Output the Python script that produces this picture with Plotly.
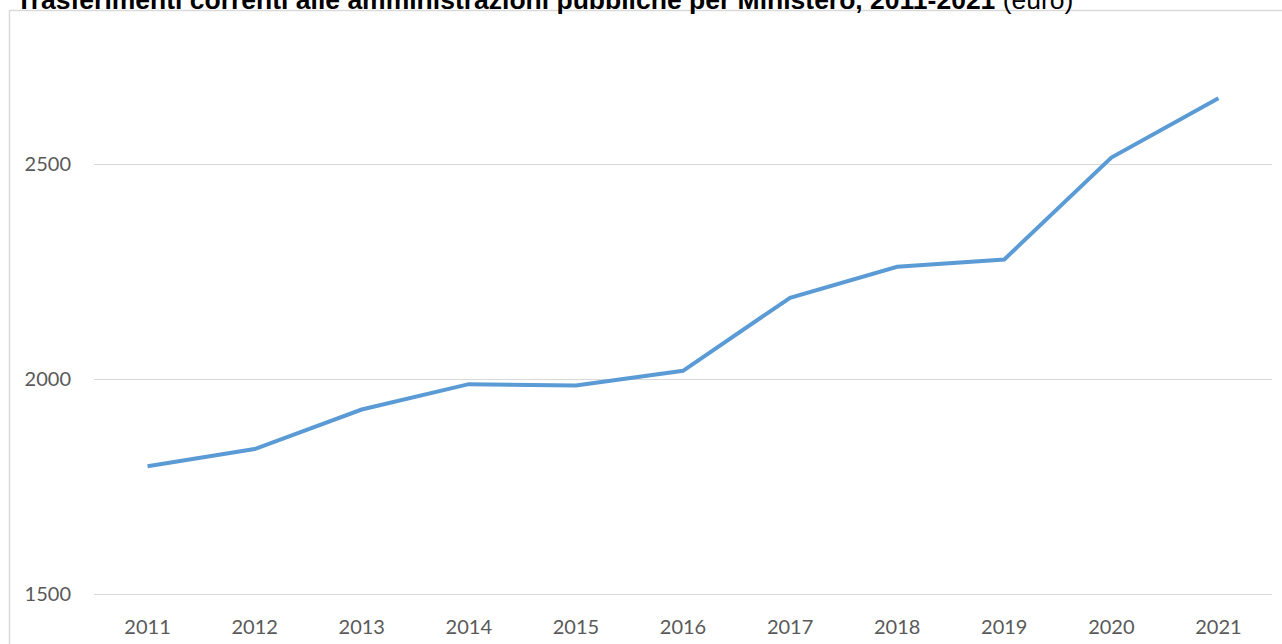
import plotly.graph_objects as go

years = ["2011", "2012", "2013", "2014", "2015", "2016", "2017", "2018", "2019", "2020", "2021"]
values = [1797, 1837, 1929, 1988, 1985, 2019, 2189, 2261, 2278, 2515, 2653]
y_ticks = [1500, 2000, 2500]

W, H = 1282, 644
L, R, T, B = 94, 10, 35, 50
PW, PH = W - L - R, H - T - B


def px_x(px):
    return (px - L) / PW


def px_y(py):
    return (H - B - py) / PH


fig = go.Figure()
fig.add_trace(go.Scatter(
    x=years, y=values, mode="lines",
    line=dict(color="#5B9BD5", width=4),
    hoverinfo="x+y", showlegend=False,
))

fig.update_layout(
    width=W, height=H,
    margin=dict(l=L, r=R, t=T, b=B, autoexpand=False),
    paper_bgcolor="white", plot_bgcolor="white",
    font=dict(family="Lato, 'Open Sans', sans-serif", color="#595959", size=20),
    xaxis=dict(
        type="category", range=[-0.5, len(years) - 0.5],
        showgrid=False, zeroline=False,
        showline=True, linecolor="#D9D9D9", linewidth=1,
        ticks="", ticklabelstandoff=15,
        tickfont=dict(size=20, color="#595959"),
    ),
    yaxis=dict(
        range=[1500, 2800], tickvals=y_ticks,
        showgrid=True, gridcolor="#D9D9D9", gridwidth=1,
        zeroline=False, showline=False, ticks="",
        ticklabelstandoff=22,
        tickfont=dict(size=20, color="#595959"),
    ),
    shapes=[
        dict(type="line", xref="paper", yref="paper",
             x0=px_x(9.5), x1=px_x(9.5), y0=px_y(10.5), y1=px_y(H + 5),
             line=dict(color="#D9D9D9", width=1.5)),
        dict(type="line", xref="paper", yref="paper",
             x0=px_x(9), x1=px_x(W + 5), y0=px_y(10.5), y1=px_y(10.5),
             line=dict(color="#D9D9D9", width=1.5)),
    ],
    annotations=[
        dict(
            xref="paper", yref="paper", x=px_x(14), y=px_y(0),
            xanchor="left", yanchor="middle", showarrow=False,
            text="<b>Trasferimenti correnti alle amministrazioni pubbliche per Ministero, 2011-2021</b> (euro)",
            font=dict(family="'Liberation Sans', Arial, sans-serif", size=26.5, color="#000000"),
        )
    ],
)

fig.write_html(
    "out.html",
    config={"displayModeBar": False},
    post_script="document.body.style.margin='0';document.body.style.overflow='hidden';",
)
